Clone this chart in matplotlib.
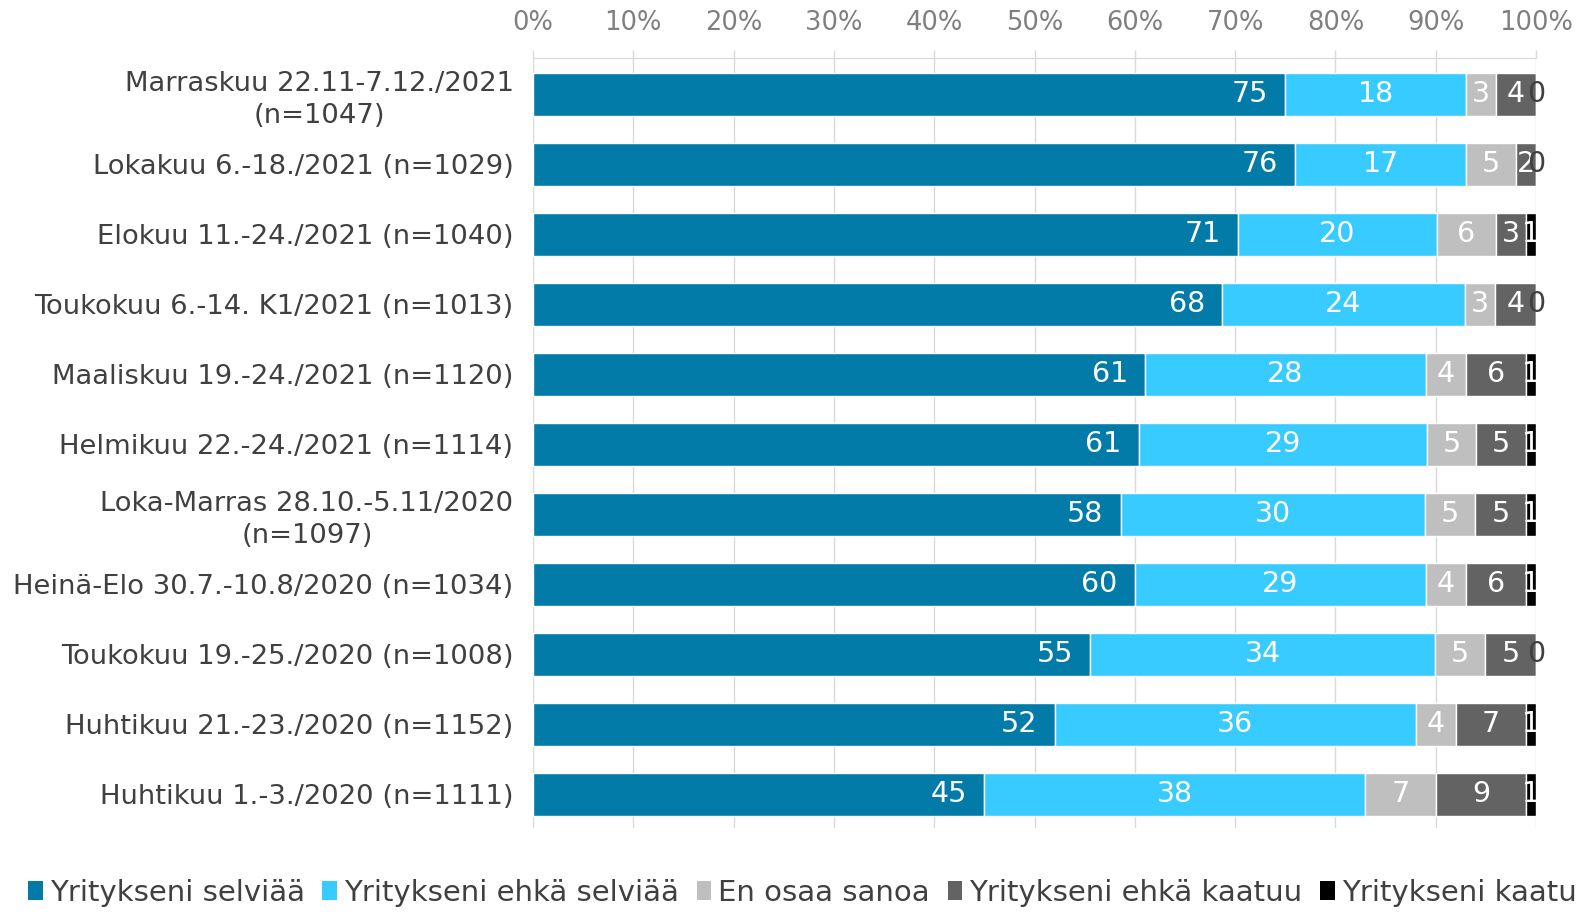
import numpy as np
import matplotlib.pyplot as plt
from matplotlib.patches import Patch

# --- データ ---
periods = [
    "Marraskuu 22.11-7.12./2021\n(n=1047)",
    "Lokakuu 6.-18./2021 (n=1029)",
    "Elokuu 11.-24./2021 (n=1040)",
    "Toukokuu 6.-14. K1/2021 (n=1013)",
    "Maaliskuu 19.-24./2021 (n=1120)",
    "Helmikuu 22.-24./2021 (n=1114)",
    "Loka-Marras 28.10.-5.11/2020\n(n=1097)",
    "Heinä-Elo 30.7.-10.8/2020 (n=1034)",
    "Toukokuu 19.-25./2020 (n=1008)",
    "Huhtikuu 21.-23./2020 (n=1152)",
    "Huhtikuu 1.-3./2020 (n=1111)",
]
selviaa = [75, 76, 71, 68, 61, 61, 58, 60, 55, 52, 45]
ehka_selviaa = [18, 17, 20, 24, 28, 29, 30, 29, 34, 36, 38]
en_osaa = [3, 5, 6, 3, 4, 5, 5, 4, 5, 4, 7]
ehka_kaatuu = [4, 2, 3, 4, 6, 5, 5, 6, 5, 7, 9]
kaatuu = [0, 0, 1, 0, 1, 1, 1, 1, 0, 1, 1]

series_names = ["Yritykseni selviää", "Yritykseni ehkä selviää", "En osaa sanoa",
                "Yritykseni ehkä kaatuu", "Yritykseni kaatuu"]
colors = ["#027BA8", "#38CBFF", "#BFBFBF", "#636363", "#000000"]

TEXT = "#404040"
GRID = "#D9D9D9"

data = np.array([selviaa, ehka_selviaa, en_osaa, ehka_kaatuu, kaatuu], dtype=float)
pct = data / data.sum(axis=0) * 100  # 100% pinottu

fig = plt.figure(figsize=(15.76, 9.14), dpi=100)
ax = fig.add_axes([533 / 1576, 1 - 828 / 914, 1003 / 1576, (828 - 58) / 914])

y = np.arange(len(periods))
left = np.zeros(len(periods))
for s in range(len(series_names)):
    ax.barh(y, pct[s], left=left, height=0.61, color=colors[s],
            edgecolor="white", linewidth=1.0, zorder=3)
    for i in range(len(periods)):
        v = data[s, i]
        w = pct[s, i]
        if s == 0:
            ax.text(left[i] + w - 1.7, y[i], f"{v:.0f}", ha="right", va="center",
                    color="white", fontsize=20.5, zorder=4)
        else:
            c = "white" if v > 0 else TEXT
            ax.text(left[i] + w / 2, y[i], f"{v:.0f}", ha="center", va="center",
                    color=c, fontsize=20.5, zorder=4)
    left += pct[s]

ax.set_xlim(0, 100)
ax.set_ylim(10.48, -0.52)
ax.set_xticks(np.arange(0, 101, 10))
ax.set_xticklabels([f"{t}%" for t in range(0, 101, 10)])
ax.xaxis.tick_top()
ax.tick_params(axis="x", colors=GRID, labelcolor="#7F7F7F", labelsize=18.5,
               length=6, width=1, pad=10)
ax.set_yticks(y)
ax.set_yticklabels(periods)
ax.tick_params(axis="y", length=0, labelsize=19.7, labelcolor=TEXT, pad=14)
for lab in ax.get_yticklabels():
    lab.set_multialignment("center")
    lab.set_linespacing(1.3)

ax.grid(axis="x", color=GRID, linewidth=1, zorder=0)
for side in ["bottom", "right", "left"]:
    ax.spines[side].set_visible(False)
ax.spines["top"].set_color(GRID)

handles = [Patch(facecolor=c) for c in colors]
fig.legend(handles, series_names, loc="center left",
           bbox_to_anchor=(28 / 1576, 1 - 893 / 914), ncol=5, frameon=False,
           fontsize=21, labelcolor=TEXT, handlelength=0.5, handleheight=0.65,
           handletextpad=0.25, columnspacing=0.6, borderpad=0, borderaxespad=0)

fig.savefig("out.png", dpi=100)
